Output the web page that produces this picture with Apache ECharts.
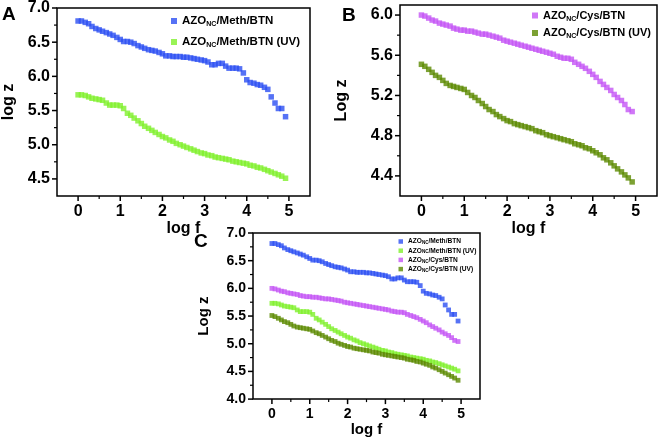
<!DOCTYPE html>
<html><head><meta charset="utf-8">
<script src="https://cdn.jsdelivr.net/npm/echarts@6/dist/echarts.min.js"></script>
<style>html,body{margin:0;padding:0;background:#fff}#c{width:661px;height:438px}</style>
</head><body><div id="c"></div>
<script>
// ---------- data ----------
const logF = [0.00,0.08,0.17,0.25,0.33,0.42,0.50,0.58,0.67,0.75,0.83,0.92,1.00,1.08,1.17,1.25,1.33,1.42,1.50,1.58,
  1.67,1.75,1.83,1.92,2.00,2.08,2.17,2.25,2.33,2.42,2.50,2.58,2.67,2.75,2.83,2.92,3.00,3.08,3.17,3.25,
  3.33,3.42,3.50,3.58,3.67,3.75,3.83,3.92,4.00,4.08,4.17,4.25,4.33,4.42,4.50,4.58,4.67,4.75,4.83,4.92];
const methBTN = [6.81,6.81,6.79,6.77,6.73,6.70,6.68,6.66,6.64,6.62,6.60,6.57,6.54,6.51,6.51,6.50,6.48,6.45,6.43,6.41,
  6.39,6.38,6.37,6.35,6.33,6.30,6.30,6.29,6.29,6.29,6.28,6.28,6.27,6.26,6.25,6.24,6.23,6.21,6.17,6.17,
  6.19,6.19,6.15,6.12,6.12,6.12,6.11,6.05,5.95,5.91,5.90,5.88,5.87,5.84,5.81,5.70,5.61,5.53,5.53,5.41];
const methBTN_UV = [5.73,5.73,5.72,5.70,5.68,5.67,5.66,5.65,5.61,5.58,5.58,5.58,5.57,5.53,5.46,5.43,5.39,5.35,5.31,5.27,
  5.24,5.21,5.18,5.15,5.12,5.10,5.07,5.05,5.02,5.00,4.98,4.96,4.94,4.92,4.90,4.88,4.87,4.85,4.84,4.82,
  4.81,4.80,4.79,4.78,4.76,4.75,4.74,4.73,4.72,4.70,4.69,4.67,4.66,4.64,4.62,4.60,4.58,4.56,4.54,4.51];
const cysBTN = [6.00,5.99,5.97,5.95,5.94,5.92,5.91,5.90,5.89,5.87,5.86,5.85,5.85,5.84,5.84,5.83,5.82,5.81,5.81,5.80,
  5.79,5.78,5.77,5.75,5.74,5.73,5.72,5.71,5.70,5.69,5.68,5.67,5.66,5.65,5.64,5.63,5.62,5.61,5.59,5.58,
  5.57,5.57,5.56,5.53,5.51,5.49,5.47,5.44,5.41,5.38,5.34,5.31,5.28,5.25,5.21,5.18,5.15,5.11,5.06,5.04];
const cysBTN_UV = [5.51,5.49,5.46,5.43,5.40,5.38,5.35,5.32,5.30,5.29,5.28,5.27,5.26,5.23,5.20,5.18,5.15,5.12,5.09,5.06,
  5.04,5.01,4.99,4.97,4.95,4.94,4.92,4.91,4.90,4.89,4.88,4.87,4.85,4.84,4.83,4.81,4.80,4.79,4.78,4.77,
  4.76,4.75,4.74,4.72,4.71,4.70,4.68,4.67,4.65,4.63,4.61,4.58,4.56,4.53,4.50,4.47,4.44,4.41,4.38,4.34];

const seriesNames = ['AZO_NC/Meth/BTN','AZO_NC/Meth/BTN (UV)','AZO_NC/Cys/BTN','AZO_NC/Cys/BTN (UV)'];
const xTicks = [0,1,2,3,4,5];
const xMinor = [0.5,1.5,2.5,3.5,4.5];
const yTicksA = [4.5,5.0,5.5,6.0,6.5,7.0];
const yMinorA = [4.75,5.25,5.75,6.25,6.75];
const yTicksB = [4.4,4.8,5.2,5.6,6.0];
const yMinorB = [4.6,5.0,5.4,5.8];
const yTicksC = [4.0,4.5,5.0,5.5,6.0,6.5,7.0];
const yMinorC = [4.25,4.75,5.25,5.75,6.25,6.75];

// ---------- styling ----------
const FF = '"Liberation Sans", Arial, sans-serif';
const COLORS = ['#2c4ff2','#80f02c','#c455f5','#5b8a00'];
const BLK = '#000';
const X_MIN = -0.5, X_MAX = 5.5;
const panels = [
  {yMin:4.25, yMax:7.0, yMaj:yTicksA, yMin2:yMinorA},
  {yMin:4.2,  yMax:6.1, yMaj:yTicksB, yMin2:yMinorB},
  {yMin:4.0,  yMax:7.0, yMaj:yTicksC, yMin2:yMinorC}
];

function pairs(ys){ return logF.map((x,i)=>[x, ys[i]]); }

function xAxis(g, fs, nameGap, nfs){
  return {type:'value', gridIndex:g, min:X_MIN, max:X_MAX, interval:0.5, position:'bottom', splitLine:{show:false},
    axisLine:{show:false, onZero:false}, axisTick:{show:false},
    axisLabel:{customValues:xTicks, color:BLK, fontWeight:'bold', fontSize:fs, fontFamily:FF, margin:8},
    name:'log f', nameLocation:'middle', nameGap:nameGap,
    nameTextStyle:{color:BLK, fontWeight:'bold', fontSize:nfs, fontFamily:FF}};
}
function yAxis(g, interval, fs, name, nameGap, nfs){
  const p = panels[g];
  return {type:'value', gridIndex:g, min:p.yMin, max:p.yMax, interval:interval, position:'left', splitLine:{show:false},
    axisLine:{show:false, onZero:false}, axisTick:{show:false},
    axisLabel:{customValues:p.yMaj, color:BLK, fontWeight:'bold', fontSize:fs, fontFamily:FF, margin:7,
      formatter:v=>v.toFixed(1)},
    name:name, nameLocation:'middle', nameGap:nameGap, nameRotate:90,
    nameTextStyle:{color:BLK, fontWeight:'bold', fontSize:nfs, fontFamily:FF}};
}
function sc(nameIdx, ys, g, size){
  return {type:'scatter', name:seriesNames[nameIdx], data:pairs(ys), xAxisIndex:g, yAxisIndex:g,
    symbol:'rect', symbolSize:size, itemStyle:{color:COLORS[nameIdx]}, silent:true, animation:false};
}
// tick marks drawn by a custom series through the axes' scales
// item = [value, kind]  kind 0: x major, 1: x minor, 2: y major, 3: y minor
function tickSeries(g){
  const p = panels[g];
  const data = [].concat(
    xTicks.map(v=>[v,0]), xMinor.map(v=>[v,1]), p.yMaj.map(v=>[v,2]), p.yMin2.map(v=>[v,3]));
  return {type:'custom', xAxisIndex:g, yAxisIndex:g, clip:false, silent:true, z:10, animation:false,
    data:data, encode:{x:-1, y:-1},
    renderItem:function(params, api){
      const v = api.value(0), k = api.value(1);
      let s;
      if (k < 2) {
        const q = api.coord([v, p.yMin]); const len = k===0?5:3;
        s = {x1:q[0], y1:q[1], x2:q[0], y2:q[1]+len};
      } else {
        const q = api.coord([X_MIN, v]); const len = k===2?5:3;
        s = {x1:q[0]-len, y1:q[1], x2:q[0], y2:q[1]};
      }
      return {type:'line', shape:s, style:{stroke:BLK, lineWidth:(k%2===0)?1.5:1.2}};
    }};
}
function legendFmt(n){
  const rest = n.replace('AZO_NC','');
  return '{a|AZO}{s|NC}{a|' + rest + '}';
}
function legend(names, left, top, fs, sfs, lh, icon, gap){
  return {data:names, left:left, top:top, orient:'vertical', icon:'rect', itemWidth:icon, itemHeight:icon,
    itemGap:gap, selectedMode:false, padding:0, formatter:legendFmt,
    textStyle:{color:BLK, fontWeight:'bold', fontFamily:FF, fontSize:fs,
      rich:{a:{fontSize:fs, fontWeight:'bold', fontFamily:FF, color:BLK, lineHeight:lh},
            s:{fontSize:sfs, fontWeight:'bold', fontFamily:FF, color:BLK, lineHeight:sfs+1, verticalAlign:'bottom'}}}};
}

const chart = echarts.init(document.getElementById('c'), null, {renderer:'canvas'});
chart.setOption({
  animation:false,
  backgroundColor:'#fff',
  grid:[
    {left:55, top:7, width:255, height:189, show:true, borderColor:BLK, borderWidth:1.5, backgroundColor:'transparent'},
    {left:400, top:5, width:257, height:191, show:true, borderColor:BLK, borderWidth:1.5, backgroundColor:'transparent'},
    {left:253, top:233, width:227, height:169, show:true, borderColor:BLK, borderWidth:1.5, backgroundColor:'transparent'}
  ],
  xAxis:[xAxis(0,16,16,16), xAxis(1,16,16,16), xAxis(2,14,18,15)],
  yAxis:[yAxis(0,0.25,16,'log z',40,16), yAxis(1,0.1,16,'Log z',50,16), yAxis(2,0.25,14,'Log z',42,15)],
  legend:[
    legend([seriesNames[0],seriesNames[1]], 171, 15, 11.5, 7, 14, 6, 8),
    legend([seriesNames[2],seriesNames[3]], 532, 10, 11, 7, 14, 6, 5),
    legend(seriesNames, 398.5, 238, 6.6, 4.5, 8, 4.5, 1.7)
  ],
  graphic:[
    {type:'text', left:2, top:5, style:{text:'A', font:'bold 19px '+FF, fill:BLK}},
    {type:'text', left:342, top:6, style:{text:'B', font:'bold 19px '+FF, fill:BLK}},
    {type:'text', left:194, top:232, style:{text:'C', font:'bold 19px '+FF, fill:BLK}}
  ],
  series:[
    sc(0, methBTN, 0, 5.5),
    sc(1, methBTN_UV, 0, 5.5),
    sc(2, cysBTN, 1, 5.5),
    sc(3, cysBTN_UV, 1, 5.5),
    sc(0, methBTN, 2, 4.8),
    sc(1, methBTN_UV, 2, 4.8),
    sc(2, cysBTN, 2, 4.8),
    sc(3, cysBTN_UV, 2, 4.8),
    tickSeries(0), tickSeries(1), tickSeries(2)
  ]
});
</script></body></html>
